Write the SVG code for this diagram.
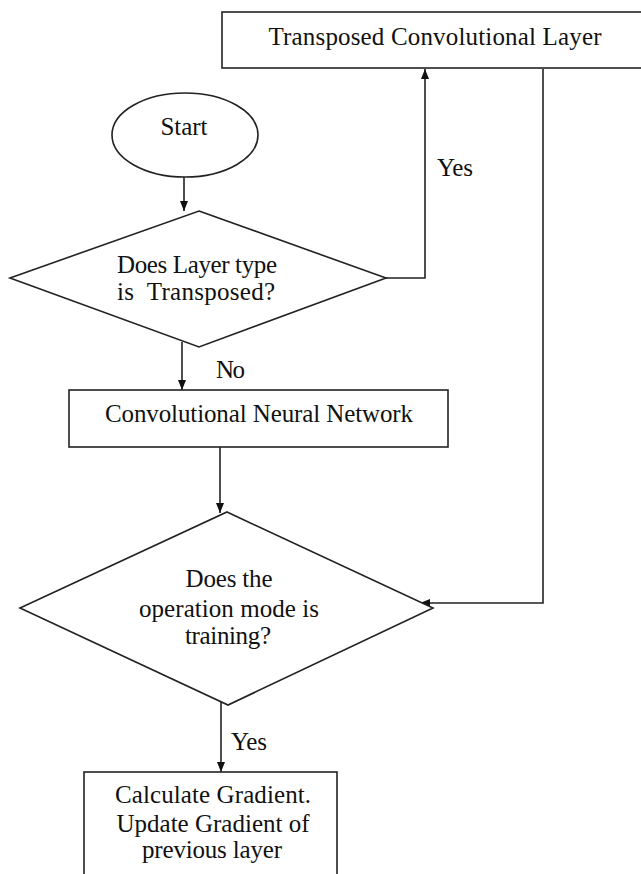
<svg xmlns="http://www.w3.org/2000/svg" width="641" height="874" viewBox="0 0 641 874">
<defs>
<style>
.shape{fill:#fff;stroke:#222;stroke-width:1.6}
.conn{fill:none;stroke:#222;stroke-width:1.6}
text{font-family:"Liberation Serif","Times New Roman",serif;font-size:25px;fill:#111}
.c{text-anchor:middle}
</style>
<marker id="arr" viewBox="0 0 10 10" refX="10" refY="5" markerWidth="10" markerHeight="10" markerUnits="userSpaceOnUse" orient="auto">
<path d="M0,1 L10,5 L0,9 Z" fill="#111"/>
</marker>
</defs>
<rect width="641" height="874" fill="#fff"/>
<g id="connectors">
<line class="conn" x1="184" y1="177" x2="184" y2="211" marker-end="url(#arr)"/>
<polyline class="conn" points="386,278 425,278 425,69" marker-end="url(#arr)"/>
<line class="conn" x1="182" y1="342" x2="182" y2="390" marker-end="url(#arr)"/>
<line class="conn" x1="220" y1="447" x2="220" y2="513" marker-end="url(#arr)"/>
<polyline class="conn" points="543,69 543,603 420,603" marker-end="url(#arr)"/>
<line class="conn" x1="221" y1="695" x2="221" y2="772" marker-end="url(#arr)"/>
<text x="437" y="176" textLength="36">Yes</text>
<text x="216" y="378" textLength="29">No</text>
<text x="231" y="750" textLength="36">Yes</text>
</g>
<g id="transposed">
<rect class="shape" x="222" y="12" width="425" height="56"/>
<text class="c" x="435" y="45" textLength="333">Transposed Convolutional Layer</text>
</g>
<g id="start">
<ellipse class="shape" cx="185" cy="135" rx="73" ry="42"/>
<text class="c" x="184" y="135" textLength="47">Start</text>
</g>
<g id="decision1">
<polygon class="shape" points="199,211 386,278 199,347 10,278"/>
<text class="c" x="197" y="273" textLength="160">Does Layer type</text>
<text class="c" x="196" y="300" textLength="158" xml:space="preserve">is  Transposed?</text>
</g>
<g id="cnn">
<rect class="shape" x="69" y="390" width="379" height="57"/>
<text class="c" x="259" y="422" textLength="308">Convolutional Neural Network</text>
</g>
<g id="decision2">
<polygon class="shape" points="227,512 433,608 228,705 20,608"/>
<text class="c" x="229" y="587" textLength="87">Does the</text>
<text class="c" x="229" y="617" textLength="180">operation mode is</text>
<text class="c" x="228" y="644" textLength="86">training?</text>
</g>
<g id="gradient">
<rect class="shape" x="84" y="772" width="253" height="110"/>
<text class="c" x="213" y="803" textLength="196">Calculate Gradient.</text>
<text class="c" x="213" y="832" textLength="193">Update Gradient of</text>
<text class="c" x="212" y="858" textLength="140">previous layer</text>
</g>
</svg>
